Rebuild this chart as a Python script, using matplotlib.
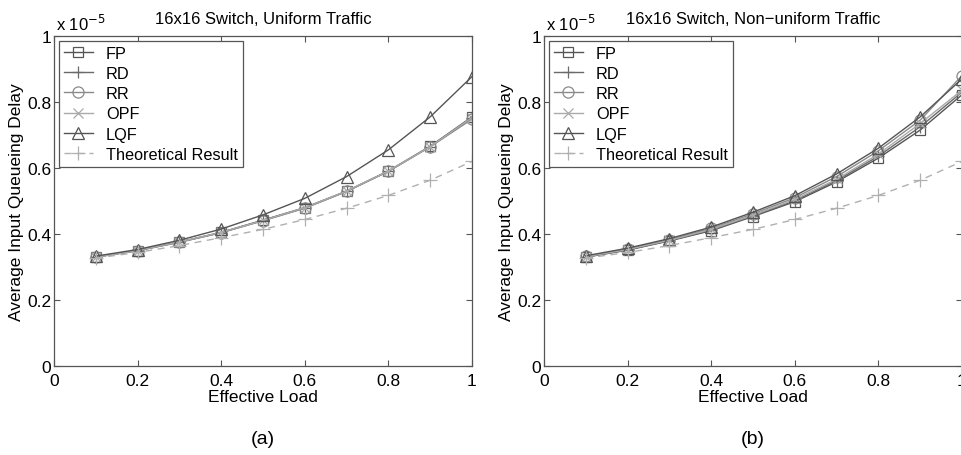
import numpy as np
import matplotlib
matplotlib.use('Agg')
import matplotlib.pyplot as plt

plt.rcParams['font.family'] = ['Liberation Sans', 'DejaVu Sans']
plt.rcParams['font.size'] = 12

# effective load
load = [0.1, 0.2, 0.3, 0.4, 0.5, 0.6, 0.7, 0.8, 0.9, 1.0]

# delays in units of 1e-5, uniform traffic
uni_fp  = [0.331, 0.350, 0.376, 0.405, 0.442, 0.480, 0.530, 0.591, 0.666, 0.755]
uni_rd  = [0.330, 0.350, 0.375, 0.404, 0.441, 0.479, 0.529, 0.590, 0.665, 0.752]
uni_rr  = [0.330, 0.349, 0.375, 0.404, 0.440, 0.478, 0.529, 0.590, 0.664, 0.748]
uni_opf = [0.330, 0.350, 0.376, 0.405, 0.441, 0.480, 0.530, 0.591, 0.665, 0.753]
uni_lqf = [0.333, 0.353, 0.381, 0.415, 0.458, 0.508, 0.574, 0.655, 0.755, 0.877]

# non-uniform traffic
non_fp  = [0.330, 0.351, 0.379, 0.410, 0.453, 0.498, 0.558, 0.630, 0.715, 0.822]
non_rd  = [0.330, 0.352, 0.380, 0.412, 0.455, 0.501, 0.562, 0.636, 0.725, 0.830]
non_rr  = [0.332, 0.355, 0.383, 0.417, 0.461, 0.510, 0.574, 0.652, 0.745, 0.880]
non_opf = [0.331, 0.353, 0.381, 0.414, 0.457, 0.505, 0.566, 0.642, 0.735, 0.836]
non_lqf = [0.334, 0.357, 0.386, 0.421, 0.466, 0.516, 0.582, 0.660, 0.755, 0.870]

theory = [0.327, 0.344, 0.365, 0.389, 0.414, 0.444, 0.478, 0.517, 0.563, 0.620]

titles = ['16x16 Switch, Uniform Traffic', '16x16 Switch, Non\u2212uniform Traffic']
captions = ['(a)', '(b)']
names = ['FP', 'RD', 'RR', 'OPF', 'LQF']
ticks = [0, 0.2, 0.4, 0.6, 0.8, 1]
tick_labels = ['0', '0.2', '0.4', '0.6', '0.8', '1']

styles = [('s', '#555555', 6.5), ('+', '#6a6a6a', 9), ('o', '#8a8a8a', 8),
          ('x', '#aaaaaa', 6.5), ('^', '#555555', 9)]

fig = plt.figure(figsize=(9.61, 4.56), dpi=100)
W, H = 961., 456.
axes_pos = [[54/W, (456-367)/H, 418/W, 330/H],
            [544/W, (456-367)/H, 418/W, 330/H]]

panels = [[uni_fp, uni_rd, uni_rr, uni_opf, uni_lqf],
          [non_fp, non_rd, non_rr, non_opf, non_lqf]]

for k in range(2):
    ax = fig.add_axes(axes_pos[k])
    for ys, nm, (mk, c, ms) in zip(panels[k], names, styles):
        ax.plot(load, ys, color=c, marker=mk, ms=ms, mfc='none', mec=c,
                mew=0.9, lw=1.0, label=nm)
    ax.plot(load, theory, color='#b0b0b0', ls='--', dashes=(5, 4), marker='+',
            ms=10, mew=0.9, lw=1.0, label='Theoretical Result')
    ax.set_xlim(0, 1)
    ax.set_ylim(0, 1)
    ax.set_xticks(ticks)
    ax.set_xticklabels(tick_labels)
    ax.set_yticks(ticks)
    ax.set_yticklabels(tick_labels)
    ax.tick_params(direction='in', top=True, right=True, length=4,
                   color='#555555', labelsize=12.5)
    ax.tick_params(axis='x', pad=5)
    ax.tick_params(axis='y', pad=2)
    for sp in ax.spines.values():
        sp.set_color('#555555')
        sp.set_linewidth(0.9)
    ax.set_xlabel('Effective Load', fontsize=12.5, labelpad=1)
    ax.set_ylabel('Average Input Queueing Delay', fontsize=12.5, labelpad=2)
    ax.set_title(titles[k], fontsize=12, pad=9)
    ax.text(0.005, 1.01, 'x 10$^{-5}$', transform=ax.transAxes,
            fontsize=12, ha='left', va='bottom')
    leg = ax.legend(loc='upper left', fancybox=False, framealpha=1,
                    edgecolor='#555555', fontsize=11.7, handlelength=1.8,
                    handletextpad=0.8, labelspacing=0.32, borderpad=0.3,
                    borderaxespad=0.3)
    leg.get_frame().set_linewidth(0.9)
    cx = axes_pos[k][0] + 418/W/2
    fig.text(cx, 1 - 440/H, captions[k], ha='center', va='center', fontsize=14)

fig.savefig('out.png', dpi=100)
